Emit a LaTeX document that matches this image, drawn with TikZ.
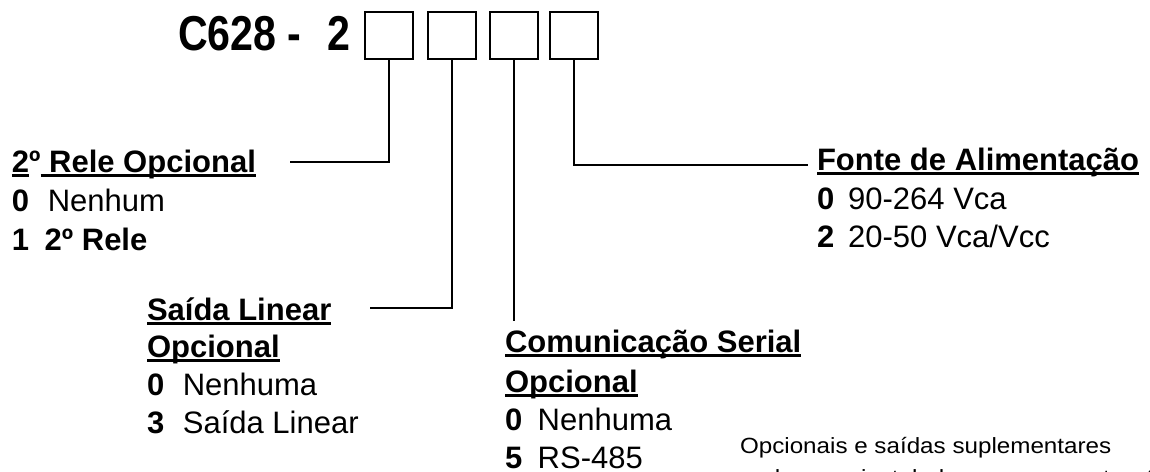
\documentclass[tikz,border=0pt]{standalone}
\usepackage{fontspec}
\setmainfont{Liberation Sans}
\usepackage{graphicx}
\newsavebox\ulsave
\newcommand{\ulbox}[1]{\sbox\ulsave{#1}\rlap{\rule[-0.15em]{\wd\ulsave}{0.07em}}\usebox\ulsave}
\begin{document}
\begin{tikzpicture}[x=1pt,y=-1pt,
  every node/.style={inner sep=0pt,outer sep=0pt,anchor=base west},
  titletext/.style={font=\fontsize{49}{55}\selectfont\bfseries},
  head/.style={font=\fontsize{31}{37}\selectfont\bfseries},
  item/.style={font=\fontsize{31}{37}\selectfont},
  note/.style={font=\fontsize{22}{28}\selectfont},
  slot/.style={draw,line width=2pt,minimum width=48pt,minimum height=47pt,anchor=north west},
  conn/.style={line width=2pt}]
\fill[white] (0,0) rectangle (1150,471);
\useasboundingbox (0,0) rectangle (1150,471);
\clip (0,0) rectangle (1150,471);

% title and slots
\node[titletext] (title) at (178,50) {\scalebox{0.84}[1]{C628 -\hspace{0.62em}2}};
\node[slot] (b1) at (365,12) {};
\node[slot] (b2) at (428,12) {};
\node[slot] (b3) at (490,12) {};
\node[slot] (b4) at (550,12) {};

% 2o Rele
\node[head] (h1) at (12,172) {\ulbox{2}º\ulbox{ Rele Opcional}};
\node[item] (h1a) at (12,211) {\textbf{0}\hspace{0.6em}Nenhum};
\node[head] (h1b) at (12,250) {1\hspace{0.5em}2º Rele};

% Saida Linear
\node[head] (h2) at (147,320) {\ulbox{Saída Linear}};
\node[head] (h2b) at (147,357) {\ulbox{Opcional}};
\node[item] (h2c) at (147,395) {\textbf{0}\hspace{0.6em}Nenhuma};
\node[item] (h2d) at (147,433) {\textbf{3}\hspace{0.6em}Saída Linear};

% Comunicacao Serial
\node[head] (h3) at (505,352) {\ulbox{Comunicação Serial}};
\node[head] (h3b) at (505,392) {\ulbox{Opcional}};
\node[item] (h3c) at (505,430) {\textbf{0}\hspace{0.5em}Nenhuma};
\node[item] (h3d) at (505,468) {\textbf{5}\hspace{0.5em}RS-485};

% Fonte
\node[head] (h4) at (817,170) {\ulbox{Fonte de Alimentação}};
\node[item] (h4a) at (817,209) {\textbf{0}\hspace{0.45em}90-264 Vca};
\node[item] (h4b) at (817,247) {\textbf{2}\hspace{0.45em}20-50 Vca/Vcc};

% note
\node[note] (n1) at (740,453) {\scalebox{1.1}[1]{Opcionais e saídas suplementares}};
\node[note] (n2) at (740,485) {\scalebox{1.1}[1]{podem ser instalados no campo através}};

% connectors
\coordinate (c1) at (290,162);
\coordinate (c2) at (370,308);
\coordinate (c3) at (514,321);
\coordinate (c4) at (808,165);
\draw[conn] (b1.south) |- (c1);
\draw[conn] (b2.south) |- (c2);
\draw[conn] (b3.south) -- (b3.south |- c3);
\draw[conn] (b4.south) |- (c4);
\end{tikzpicture}
\end{document}
